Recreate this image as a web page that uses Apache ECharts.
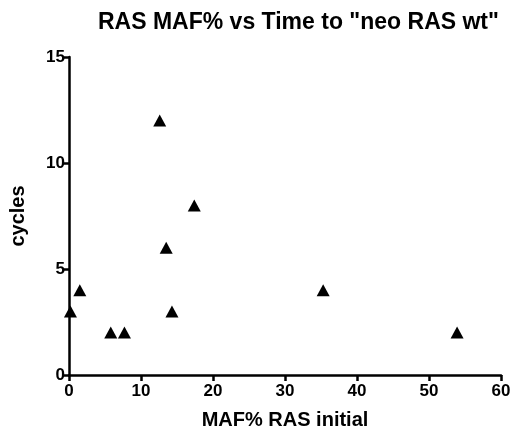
<!DOCTYPE html>
<html>
<head>
<meta charset="utf-8">
<script src="https://cdn.jsdelivr.net/npm/echarts@6/dist/echarts.min.js"></script>
<style>html,body{margin:0;padding:0;background:#fff;}#c{width:514px;height:436px;}</style>
</head>
<body>
<div id="c"></div>
<script>
var titleText = 'RAS MAF% vs Time to "neo RAS wt"';
var xName = 'MAF% RAS initial';
var yName = 'cycles';
var mafInitial = [0.2, 1.5, 5.8, 7.7, 12.6, 13.5, 14.3, 17.4, 35.3, 53.9];
var cycles =     [3,   4,   2,   2,   12,   6,    3,    8,    4,    2];
var xTicks = [0, 10, 20, 30, 40, 50, 60];
var yTicks = [0, 5, 10, 15];

var points = mafInitial.map(function (v, i) { return [v, cycles[i]]; });
var font = 'Liberation Sans, Arial, sans-serif';
var chart = echarts.init(document.getElementById('c'));
chart.setOption({
  animation: false,
  backgroundColor: '#fff',
  title: {
    text: titleText,
    left: 93, top: 6,
    textStyle: { fontFamily: font, fontWeight: 'bold', fontSize: 23, color: '#000' }
  },
  grid: { left: 69, right: 13, top: 57, bottom: 61, containLabel: false },
  xAxis: {
    type: 'value', min: xTicks[0], max: xTicks[xTicks.length - 1], interval: 10,
    name: xName, nameLocation: 'middle', nameGap: 35,
    nameTextStyle: { fontFamily: font, fontWeight: 'bold', fontSize: 20, color: '#000' },
    axisLine: { show: true, lineStyle: { color: '#000', width: 2.5 } },
    axisTick: { show: true, length: 6, lineStyle: { color: '#000', width: 2.5 } },
    axisLabel: { fontFamily: font, fontWeight: 'bold', fontSize: 17, color: '#000', margin: 8 },
    splitLine: { show: false }
  },
  yAxis: {
    type: 'value', min: yTicks[0], max: yTicks[yTicks.length - 1], interval: 5,
    name: yName, nameLocation: 'middle', nameGap: 41, nameRotate: 90,
    nameTextStyle: { fontFamily: font, fontWeight: 'bold', fontSize: 20, color: '#000' },
    axisLine: { show: true, lineStyle: { color: '#000', width: 2.5 } },
    axisTick: { show: true, length: 6, lineStyle: { color: '#000', width: 2.5 } },
    axisLabel: { fontFamily: font, fontWeight: 'bold', fontSize: 17, color: '#000', margin: 4 },
    splitLine: { show: false }
  },
  series: [{
    type: 'scatter',
    data: points,
    symbol: 'triangle',
    symbolSize: [13, 12],
    itemStyle: { color: '#000', opacity: 1 }
  }]
});
</script>
</body>
</html>
